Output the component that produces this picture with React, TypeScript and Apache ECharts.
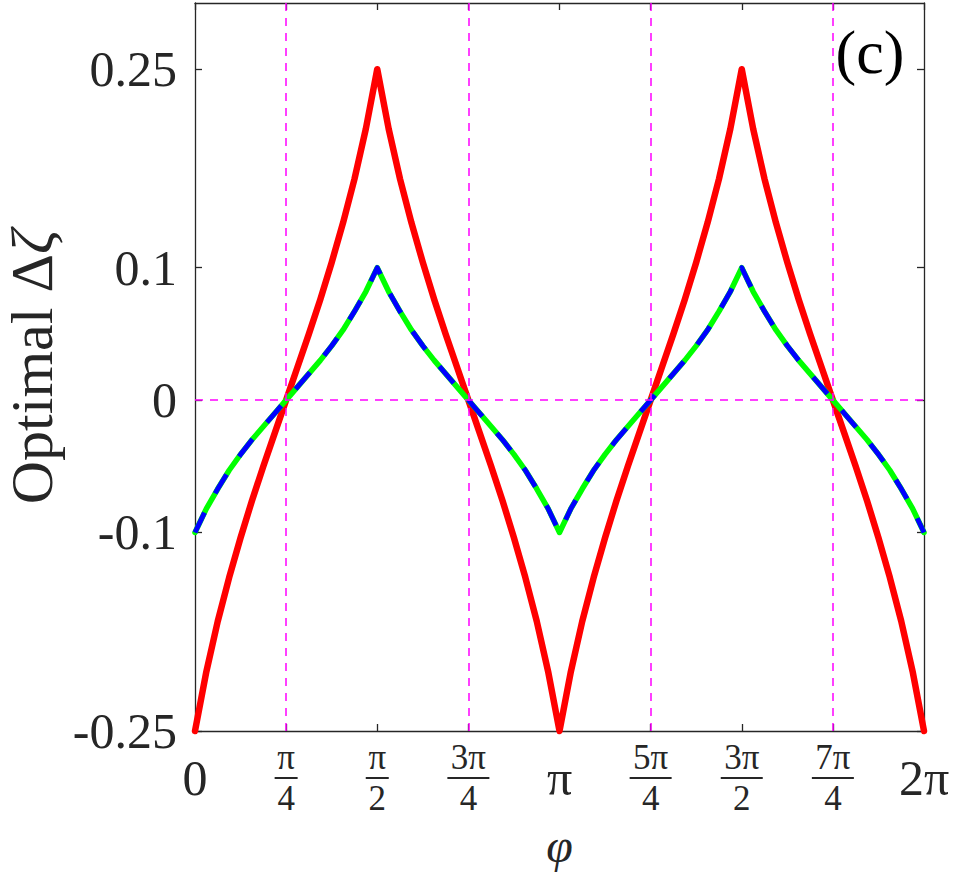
import React, { useEffect, useRef } from 'react';
import * as echarts from 'echarts';

// phi in units of pi (sampled every pi/32)
const PHI_OVER_PI = [
  0, 0.03125, 0.0625, 0.09375, 0.125, 0.15625, 0.1875, 0.21875, 0.25, 0.28125, 0.3125, 0.34375, 0.375,
  0.40625, 0.4375, 0.46875, 0.5, 0.53125, 0.5625, 0.59375, 0.625, 0.65625, 0.6875, 0.71875, 0.75,
  0.78125, 0.8125, 0.84375, 0.875, 0.90625, 0.9375, 0.96875, 1, 1.03125, 1.0625, 1.09375, 1.125,
  1.15625, 1.1875, 1.21875, 1.25, 1.28125, 1.3125, 1.34375, 1.375, 1.40625, 1.4375, 1.46875, 1.5,
  1.53125, 1.5625, 1.59375, 1.625, 1.65625, 1.6875, 1.71875, 1.75, 1.78125, 1.8125, 1.84375, 1.875,
  1.90625, 1.9375, 1.96875, 2,
];

// red curve (optimal Δζ, strong case)
const RED_VALUES = [
  -0.25, -0.205, -0.167, -0.134, -0.104, -0.076, -0.05, -0.025, 0, 0.025, 0.05, 0.076, 0.104, 0.134, 0.167, 0.205, 0.25,
  0.205, 0.167, 0.134, 0.104, 0.076, 0.05, 0.025, 0, -0.025, -0.05, -0.076, -0.104, -0.134, -0.167, -0.205, -0.25,
  -0.205, -0.167, -0.134, -0.104, -0.076, -0.05, -0.025, 0, 0.025, 0.05, 0.076, 0.104, 0.134, 0.167, 0.205, 0.25,
  0.205, 0.167, 0.134, 0.104, 0.076, 0.05, 0.025, 0, -0.025, -0.05, -0.076, -0.104, -0.134, -0.167, -0.205, -0.25,
];

// green curve (solid underlay)
const GREEN_VALUES = [
  -0.1, -0.082, -0.067, -0.053, -0.041, -0.03, -0.02, -0.01, 0, 0.01, 0.02, 0.03, 0.041, 0.053, 0.067, 0.082, 0.1,
  0.082, 0.067, 0.053, 0.041, 0.03, 0.02, 0.01, 0, -0.01, -0.02, -0.03, -0.041, -0.053, -0.067, -0.082, -0.1,
  -0.082, -0.067, -0.053, -0.041, -0.03, -0.02, -0.01, 0, 0.01, 0.02, 0.03, 0.041, 0.053, 0.067, 0.082, 0.1,
  0.082, 0.067, 0.053, 0.041, 0.03, 0.02, 0.01, 0, -0.01, -0.02, -0.03, -0.041, -0.053, -0.067, -0.082, -0.1,
];

// blue curve (dashed overlay)
const BLUE_VALUES = [
  -0.1, -0.082, -0.067, -0.053, -0.041, -0.03, -0.02, -0.01, 0, 0.01, 0.02, 0.03, 0.041, 0.053, 0.067, 0.082, 0.1,
  0.082, 0.067, 0.053, 0.041, 0.03, 0.02, 0.01, 0, -0.01, -0.02, -0.03, -0.041, -0.053, -0.067, -0.082, -0.1,
  -0.082, -0.067, -0.053, -0.041, -0.03, -0.02, -0.01, 0, 0.01, 0.02, 0.03, 0.041, 0.053, 0.067, 0.082, 0.1,
  0.082, 0.067, 0.053, 0.041, 0.03, 0.02, 0.01, 0, -0.01, -0.02, -0.03, -0.041, -0.053, -0.067, -0.082, -0.1,
];

const X_TICKS = [0, 0.25, 0.5, 0.75, 1, 1.25, 1.5, 1.75, 2];
const X_TICK_LABELS = [
  '{big|0}',
  '{num|π}\n{barS|}\n{den|4}',
  '{num|π}\n{barS|}\n{den|2}',
  '{num|3π}\n{barL|}\n{den|4}',
  '{big|π}',
  '{num|5π}\n{barL|}\n{den|4}',
  '{num|3π}\n{barL|}\n{den|2}',
  '{num|7π}\n{barL|}\n{den|4}',
  '{big|2π}',
];
const Y_TICKS = [-0.25, -0.1, 0, 0.1, 0.25];
const Y_TICK_LABELS = ['-0.25', '-0.1', '0', '0.1', '0.25'];

const GUIDE_X = [0.25, 0.75, 1.25, 1.75];
const GUIDE_Y = [0];

const PANEL_LABEL = '(c)';
const X_NAME = 'φ';
const Y_NAME = 'Optimal Δ{z|ζ}';

export default function App() {
  const ref = useRef<HTMLDivElement>(null);

  useEffect(() => {
    if (!ref.current) return;
    const chart = echarts.init(ref.current, null, { renderer: 'svg' });
    const font = 'Liberation Serif';
    const ink = '#262626';
    const pair = (ys: number[]) => PHI_OVER_PI.map((x, i) => [x, ys[i]]);
    const findIdx = (arr: number[], v: number) => arr.findIndex((t) => Math.abs(t - v) < 1e-6);

    const tickStyle = { inside: true, length: 7, lineStyle: { color: ink, width: 1.3 } };
    const lineStyleAxis = { onZero: false, lineStyle: { color: ink, width: 1.3 } };

    chart.setOption({
      animation: false,
      textStyle: { fontFamily: font },
      grid: { left: 195, right: 30, top: 3, bottom: 144, containLabel: false, outerBoundsMode: 'none' },
      xAxis: [
        {
          type: 'value',
          position: 'bottom',
          min: 0,
          max: 2,
          interval: 0.25,
          axisLine: lineStyleAxis,
          axisTick: { ...tickStyle, customValues: X_TICKS },
          splitLine: { show: false },
          axisLabel: {
            customValues: X_TICKS,
            formatter: (v: number) => X_TICK_LABELS[findIdx(X_TICKS, v)] ?? '',
            margin: 47,
            verticalAlign: 'middle',
            color: ink,
            fontFamily: font,
            hideOverlap: false,
            rich: {
              big: { fontSize: 50, lineHeight: 56, fontFamily: font, color: ink },
              num: { fontSize: 35, lineHeight: 37, fontFamily: font, color: ink },
              den: { fontSize: 35, lineHeight: 37, fontFamily: font, color: ink },
              barS: { width: 23, height: 2, lineHeight: 4, backgroundColor: ink },
              barL: { width: 42, height: 2, lineHeight: 4, backgroundColor: ink },
            },
          },
          name: X_NAME,
          nameLocation: 'middle',
          nameGap: 114,
          nameTextStyle: { fontFamily: font, fontSize: 48, lineHeight: 40, fontStyle: 'italic', color: ink, verticalAlign: 'middle' },
        },
        {
          type: 'value',
          position: 'top',
          min: 0,
          max: 2,
          interval: 0.25,
          axisLine: lineStyleAxis,
          axisTick: { ...tickStyle, customValues: X_TICKS },
          axisLabel: { show: false },
          splitLine: { show: false },
        },
      ],
      yAxis: [
        {
          type: 'value',
          position: 'left',
          min: -0.25,
          max: 0.3,
          axisLine: lineStyleAxis,
          axisTick: { ...tickStyle, customValues: Y_TICKS },
          splitLine: { show: false },
          axisLabel: {
            customValues: Y_TICKS,
            formatter: (v: number) => Y_TICK_LABELS[findIdx(Y_TICKS, v)] ?? '',
            margin: 18,
            fontSize: 50,
            fontFamily: font,
            color: ink,
            padding: [0, 0, 8, 0],
            hideOverlap: false,
          },
          name: Y_NAME,
          nameLocation: 'middle',
          nameGap: 163,
          nameTextStyle: {
            fontFamily: font,
            fontSize: 60,
            lineHeight: 50,
            color: ink,
            verticalAlign: 'middle',
            rich: { z: { fontFamily: font, fontSize: 60, lineHeight: 50, fontStyle: 'italic', color: ink } },
          },
        },
        {
          type: 'value',
          position: 'right',
          min: -0.25,
          max: 0.3,
          axisLine: lineStyleAxis,
          axisTick: { ...tickStyle, customValues: Y_TICKS },
          axisLabel: { show: false },
          splitLine: { show: false },
        },
      ],
      graphic: [
        {
          type: 'text',
          x: 870,
          y: 52,
          style: {
            text: PANEL_LABEL,
            fontSize: 62,
            fontFamily: font,
            fill: '#000',
            align: 'center',
            verticalAlign: 'middle',
          },
        },
      ],
      series: [
        {
          type: 'line',
          data: [],
          z: 1,
          silent: true,
          markLine: {
            silent: true,
            symbol: ['none', 'none'],
            label: { show: false },
            lineStyle: { color: '#ff00ff', width: 1.5, type: [8, 7] },
            emphasis: { disabled: true },
            data: [...GUIDE_X.map((x) => ({ xAxis: x })), ...GUIDE_Y.map((y) => ({ yAxis: y }))],
          },
        },
        {
          type: 'line',
          data: pair(RED_VALUES),
          symbol: 'none',
          clip: false,
          z: 2,
          silent: true,
          lineStyle: { color: '#ff0000', width: 6.5, cap: 'round', join: 'round' },
        },
        {
          type: 'line',
          data: pair(GREEN_VALUES),
          symbol: 'none',
          clip: false,
          z: 3,
          silent: true,
          lineStyle: { color: '#00ff00', width: 5.5, cap: 'round', join: 'round' },
        },
        {
          type: 'line',
          data: pair(BLUE_VALUES),
          symbol: 'none',
          clip: false,
          z: 4,
          silent: true,
          lineStyle: { color: '#0000ff', width: 5, type: [22, 22], cap: 'butt', join: 'round' },
        },
      ],
    });

    return () => chart.dispose();
  }, []);

  return <div ref={ref} style={{ position: 'absolute', left: 0, top: 0, width: 954, height: 875 }} />;
}
